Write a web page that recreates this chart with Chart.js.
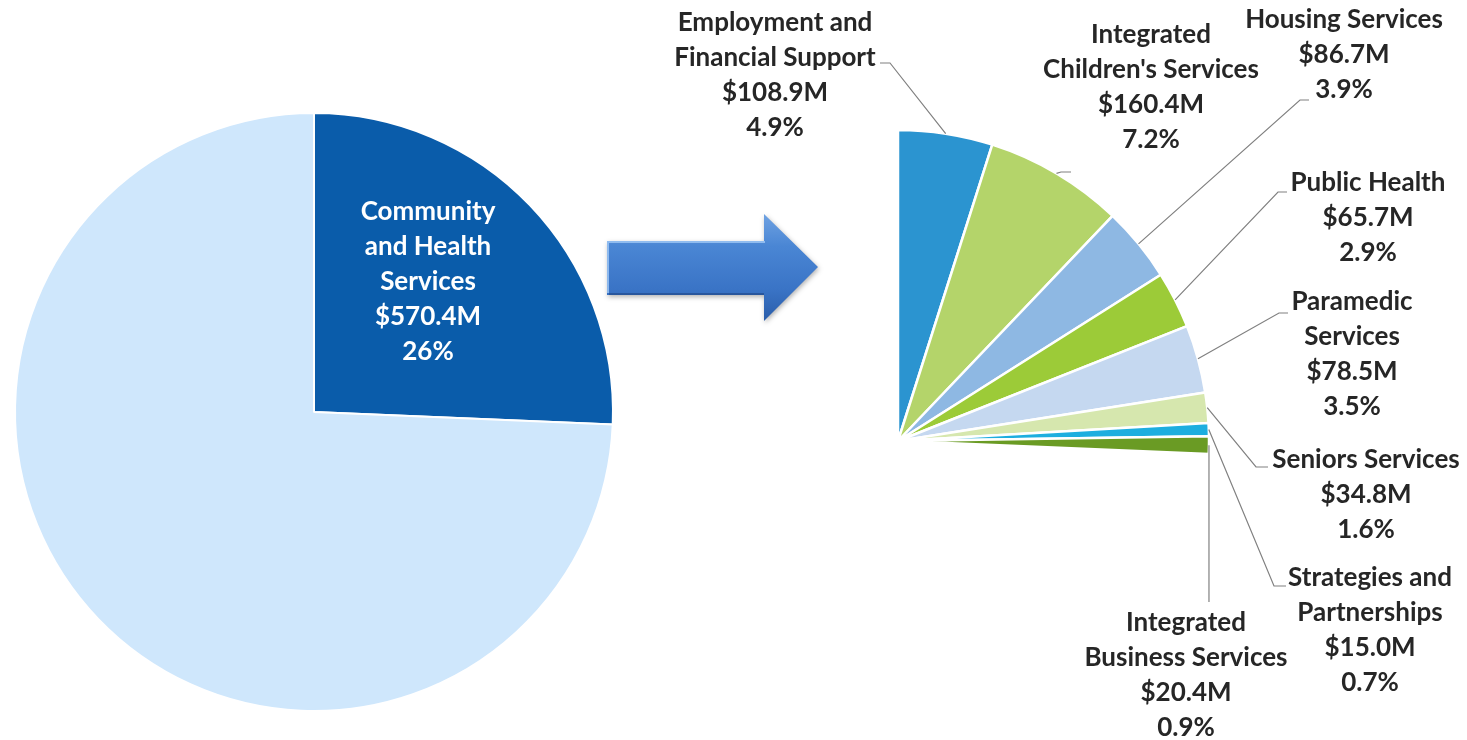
<!DOCTYPE html>
<html>
<head>
<meta charset="utf-8">
<title>Community and Health Services budget</title>
<script src="https://cdn.jsdelivr.net/npm/chart.js@4.4.1/dist/chart.umd.min.js"></script>
<style>
  html, body { margin: 0; padding: 0; background: #ffffff; overflow: hidden; }
  #wrap { position: relative; width: 1467px; height: 740px; }
  #wrap canvas { position: absolute; left: 0; top: 0; }
</style>
</head>
<body>
<div id="wrap">
  <canvas id="budget" width="1467" height="740"></canvas>
  <canvas id="detail" width="1467" height="740"></canvas>
</div>
<script>
// ---- data ($ millions) ----
const TOTAL_BUDGET = 2222.0;                      // whole operating budget
const departmentLines = ['Community', 'and Health', 'Services'];
const departmentValue = 570.4;
const departmentPct = 26;

const programLabels = [
  ['Employment and', 'Financial Support'],
  ['Integrated', "Children's Services"],
  ['Housing Services'],
  ['Public Health'],
  ['Paramedic', 'Services'],
  ['Seniors Services'],
  ['Strategies and', 'Partnerships'],
  ['Integrated', 'Business Services']
];
const programValues = [108.9, 160.4, 86.7, 65.7, 78.5, 34.8, 15.0, 20.4];
const programPcts   = [4.9, 7.2, 3.9, 2.9, 3.5, 1.6, 0.7, 0.9];

// ---- styling ----
const FONT = 'bold 26px Lato, "Open Sans", sans-serif';
const LINE_H = 35;
const TEXT_COLOR = '#262626';
const LEADER_COLOR = '#808080';
const departmentColors = ['#0A5CAA', '#CFE7FC'];
const programColors = ['#2B94D0', '#B4D46A', '#8EB8E3', '#9CCB38',
                       '#C5D8F0', '#D6E7AE', '#1DAEDF', '#6A9B24'];

// label block placement: centre x, first-line y, leader bend and end points
const programLabelLayout = [
  { x: 775,  y: 23,  path: [[890, 63], [880, 63]] },
  { x: 1151, y: 35,  path: [[1061, 172], [1071, 172]] },
  { x: 1344, y: 20,  path: [[1300, 100], [1309, 100]] },
  { x: 1368, y: 183, path: [[1278, 192], [1287, 192]] },
  { x: 1352, y: 302, path: [[1279, 313], [1288, 313]] },
  { x: 1366, y: 460, path: [[1256, 467], [1268, 467]] },
  { x: 1370, y: 578, path: [[1274, 586], [1286, 586]] },
  { x: 1186, y: 623, path: [[null, 602]] }
];

const money = v => '$' + v.toFixed(1) + 'M';

function drawLines(ctx, lines, cx, y0, color) {
  ctx.save();
  ctx.font = FONT;
  ctx.fillStyle = color;
  ctx.textAlign = 'center';
  ctx.textBaseline = 'middle';
  lines.forEach((t, i) => ctx.fillText(t, cx, y0 + i * LINE_H));
  ctx.restore();
}

// block arrow between the two pies
function drawArrow(ctx) {
  const x0 = 607, x1 = 764, xt = 818;
  const yb0 = 241, yb1 = 295, yh0 = 214, yh1 = 321, ym = 267;
  ctx.save();
  const g = ctx.createLinearGradient(0, yh0, 0, yh1);
  g.addColorStop(0, '#6FA2E2');
  g.addColorStop(0.3, '#4A86D4');
  g.addColorStop(0.7, '#3A74C6');
  g.addColorStop(1, '#2A5DAA');
  ctx.shadowColor = 'rgba(0,0,0,0.3)';
  ctx.shadowBlur = 5;
  ctx.shadowOffsetX = 1;
  ctx.shadowOffsetY = 2;
  ctx.beginPath();
  ctx.moveTo(x0, yb0);
  ctx.lineTo(x1, yb0);
  ctx.lineTo(x1, yh0);
  ctx.lineTo(xt, ym);
  ctx.lineTo(x1, yh1);
  ctx.lineTo(x1, yb1);
  ctx.lineTo(x0, yb1);
  ctx.closePath();
  ctx.fillStyle = g;
  ctx.fill();
  ctx.shadowColor = 'transparent';
  // bevel highlight along the top of the shaft
  ctx.strokeStyle = 'rgba(160,200,245,0.8)';
  ctx.lineWidth = 2;
  ctx.beginPath();
  ctx.moveTo(x0 + 1, yb1 - 2);
  ctx.lineTo(x0 + 1, yb0 + 1);
  ctx.lineTo(x1 + 1, yb0 + 1);
  ctx.stroke();
  ctx.strokeStyle = 'rgba(25,60,120,0.5)';
  ctx.beginPath();
  ctx.moveTo(x0 + 2, yb1 - 1);
  ctx.lineTo(x1, yb1 - 1);
  ctx.stroke();
  ctx.restore();
}

const departmentPlugin = {
  id: 'departmentDecor',
  afterDraw(chart) {
    const ctx = chart.ctx;
    drawArrow(ctx);
    const arc = chart.getDatasetMeta(0).data[0];
    const lines = departmentLines.concat([money(departmentValue), departmentPct + '%']);
    // text block sits inside the dark slice
    drawLines(ctx, lines, arc.x + 114, arc.y - 200, '#FFFFFF');
  }
};

const programPlugin = {
  id: 'programLabels',
  afterDraw(chart) {
    const ctx = chart.ctx;
    const arcs = chart.getDatasetMeta(0).data;
    programLabelLayout.forEach((lay, i) => {
      const a = arcs[i];
      const mid = (a.startAngle + a.endAngle) / 2;
      const sx = a.x + Math.cos(mid) * a.outerRadius;
      const sy = a.y + Math.sin(mid) * a.outerRadius;
      ctx.save();
      ctx.strokeStyle = LEADER_COLOR;
      ctx.lineWidth = 1.2;
      ctx.beginPath();
      ctx.moveTo(sx, sy);
      lay.path.forEach(p => ctx.lineTo(p[0] === null ? sx : p[0], p[1]));
      ctx.stroke();
      ctx.restore();
      const lines = programLabels[i].concat([money(programValues[i]), programPcts[i].toFixed(1) + '%']);
      drawLines(ctx, lines, lay.x, lay.y, TEXT_COLOR);
    });
  }
};

const common = {
  responsive: false,
  animation: false,
  events: [],
  plugins: { legend: { display: false }, tooltip: { enabled: false } }
};

new Chart(document.getElementById('budget'), {
  type: 'pie',
  data: {
    labels: ['Community and Health Services', 'Other departments'],
    datasets: [{
      data: [departmentValue, TOTAL_BUDGET - departmentValue],
      backgroundColor: departmentColors,
      borderColor: '#FFFFFF',
      borderWidth: 2
    }]
  },
  options: Object.assign({}, common, {
    radius: 299,
    layout: { padding: { left: 0, right: 839, top: 84, bottom: 0 } }
  }),
  plugins: [departmentPlugin]
});

const restOfBudget = TOTAL_BUDGET - programValues.reduce((s, v) => s + v, 0);

new Chart(document.getElementById('detail'), {
  type: 'pie',
  data: {
    labels: programLabels.map(l => l.join(' ')).concat(['']),
    datasets: [{
      data: programValues.concat([restOfBudget]),
      backgroundColor: programColors.concat(['rgba(0,0,0,0)']),
      borderColor: programColors.map(() => '#FFFFFF').concat(['rgba(0,0,0,0)']),
      borderWidth: programColors.map(() => 2.5).concat([0])
    }]
  },
  options: Object.assign({}, common, {
    radius: 311,
    layout: { padding: { left: 329, right: 0, top: 142, bottom: 0 } }
  }),
  plugins: [programPlugin]
});
</script>
</body>
</html>
